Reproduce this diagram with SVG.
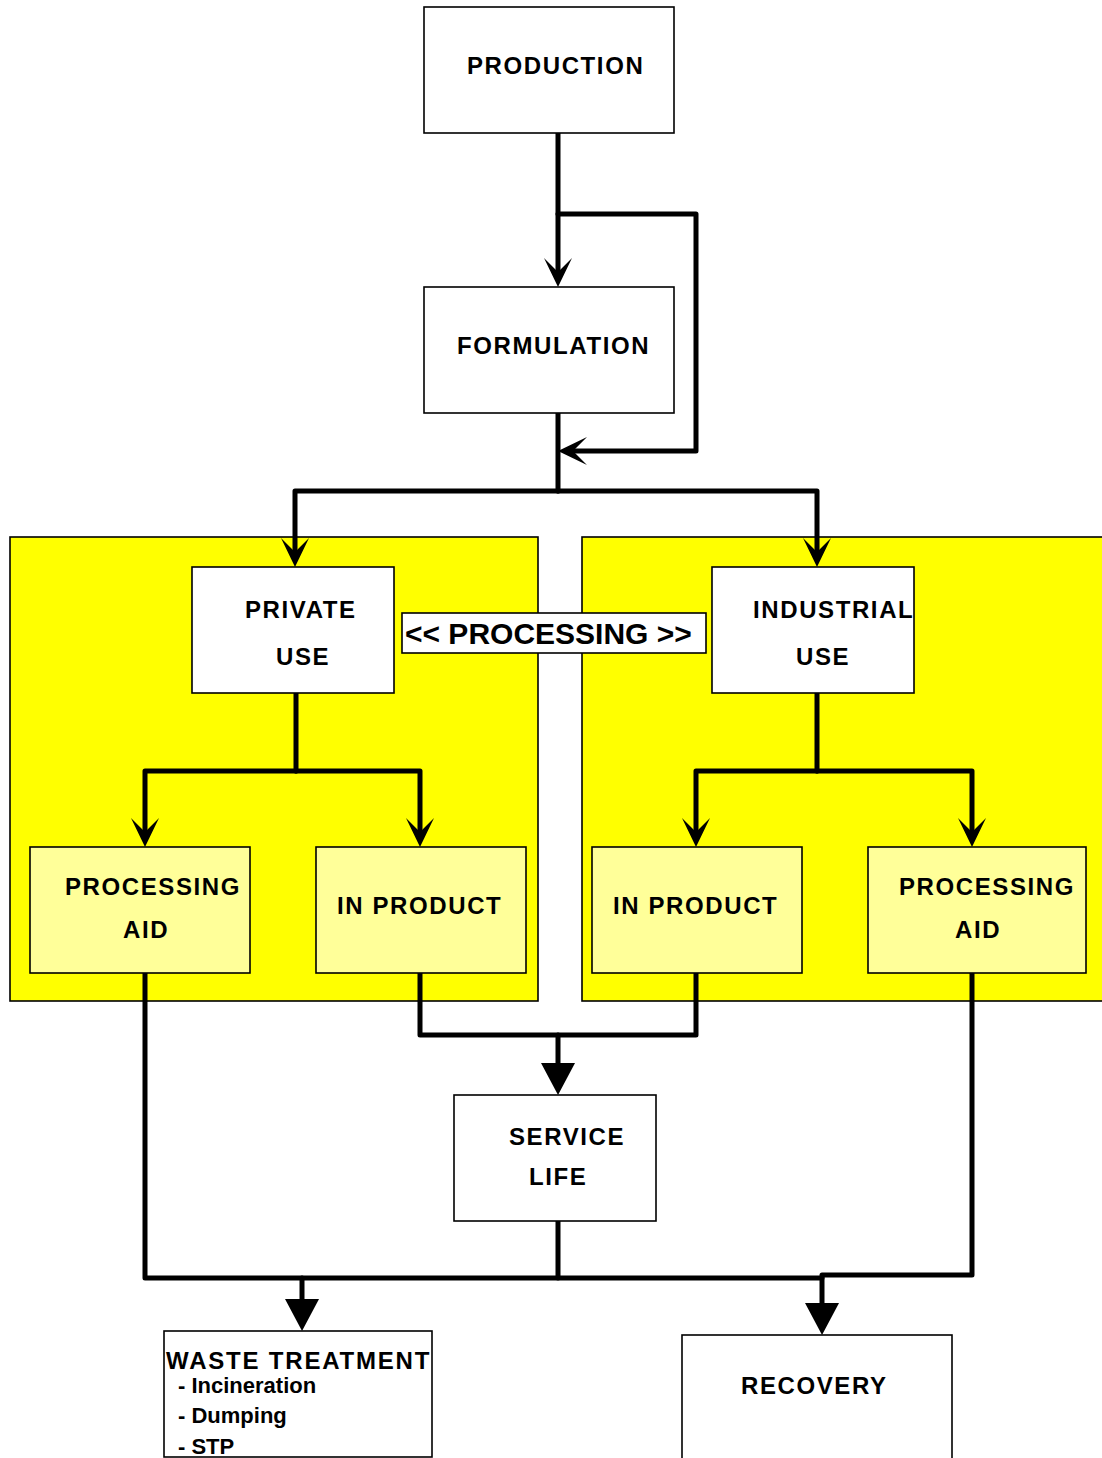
<svg xmlns="http://www.w3.org/2000/svg" width="1102" height="1458" viewBox="0 0 1102 1458">
<style>
.box{fill:#ffffff;stroke:#000;stroke-width:1.6}
.lbox{fill:#ffff99;stroke:#000;stroke-width:1.6}
.panel{fill:#ffff00;stroke:#000;stroke-width:1.6}
.t{font-family:"Liberation Sans",Arial,Helvetica,sans-serif;font-weight:bold;font-size:24px;letter-spacing:1.6px;fill:#000}
.big{font-size:30px;letter-spacing:0px}
.sub{font-size:22px;letter-spacing:0px}
.c{fill:none;stroke:#000;stroke-width:5;stroke-linejoin:round;stroke-linecap:round}
</style>
<defs>
<marker id="barb" markerUnits="userSpaceOnUse" viewBox="0 0 29 28" refX="17" refY="14" markerWidth="29" markerHeight="28" orient="auto">
<path d="M0,0 L29,14 L0,28 L14,14 Z" fill="#000"/>
</marker>
<marker id="tri" markerUnits="userSpaceOnUse" viewBox="0 0 32 34" refX="12" refY="17" markerWidth="32" markerHeight="34" orient="auto">
<path d="M0,0 L32,17 L0,34 Z" fill="#000"/>
</marker>
</defs>
<rect width="1102" height="1458" fill="#fff"/>

<g id="panel-private"><rect class="panel" x="10" y="537" width="528" height="464"/></g>
<g id="panel-industrial"><rect class="panel" x="582" y="537" width="530" height="464"/></g>

<g id="connectors">
<path class="c" d="M558,133 V275" marker-end="url(#barb)"/>
<path class="c" d="M558,214 H696 V451 H570" marker-end="url(#barb)"/>
<path class="c" d="M558,413 V491"/>
<path class="c" d="M558,491 H295 V555" marker-end="url(#barb)"/>
<path class="c" d="M558,491 H817 V555" marker-end="url(#barb)"/>
<path class="c" d="M296,693 V771"/>
<path class="c" d="M296,771 H145 V835" marker-end="url(#barb)"/>
<path class="c" d="M296,771 H420 V835" marker-end="url(#barb)"/>
<path class="c" d="M817,693 V771"/>
<path class="c" d="M817,771 H696 V835" marker-end="url(#barb)"/>
<path class="c" d="M817,771 H972 V835" marker-end="url(#barb)"/>
<path class="c" d="M420,973 V1035 H696 V973"/>
<path class="c" d="M558,1035 V1075" marker-end="url(#tri)"/>
<path class="c" d="M145,973 V1278 H822"/>
<path class="c" d="M558,1221 V1278"/>
<path class="c" d="M972,973 V1275 H822 V1315" marker-end="url(#tri)"/>
<path class="c" d="M302,1278 V1311" marker-end="url(#tri)"/>
</g>

<g id="production"><rect class="box" x="424" y="7" width="250" height="126"/><text class="t" x="467" y="73.5">PRODUCTION</text></g>
<g id="formulation"><rect class="box" x="424" y="287" width="250" height="126"/><text class="t" x="457" y="353.5">FORMULATION</text></g>
<g id="processing-label"><rect class="box" x="402" y="613" width="304" height="40"/><text class="t big" x="405" y="644">&lt;&lt; PROCESSING &gt;&gt;</text></g>
<g id="private-use"><rect class="box" x="192" y="567" width="202" height="126"/><text class="t" x="245" y="617.5">PRIVATE</text><text class="t" x="276" y="664.5">USE</text></g>
<g id="industrial-use"><rect class="box" x="712" y="567" width="202" height="126"/><text class="t" x="753" y="617.5">INDUSTRIAL</text><text class="t" x="796" y="664.5">USE</text></g>
<g id="processing-aid-left"><rect class="lbox" x="30" y="847" width="220" height="126"/><text class="t" x="65" y="894.5">PROCESSING</text><text class="t" x="123" y="937.5">AID</text></g>
<g id="in-product-left"><rect class="lbox" x="316" y="847" width="210" height="126"/><text class="t" x="337" y="913.5">IN PRODUCT</text></g>
<g id="in-product-right"><rect class="lbox" x="592" y="847" width="210" height="126"/><text class="t" x="613" y="913.5">IN PRODUCT</text></g>
<g id="processing-aid-right"><rect class="lbox" x="868" y="847" width="218" height="126"/><text class="t" x="899" y="894.5">PROCESSING</text><text class="t" x="955" y="937.5">AID</text></g>
<g id="service-life"><rect class="box" x="454" y="1095" width="202" height="126"/><text class="t" x="509" y="1144.5">SERVICE</text><text class="t" x="529" y="1184.5">LIFE</text></g>
<g id="waste-treatment"><rect class="box" x="164" y="1331" width="268" height="126"/>
<text class="t" x="166" y="1369" style="letter-spacing:1.8px">WASTE TREATMENT</text>
<text class="t sub" x="178" y="1393">- Incineration</text>
<text class="t sub" x="178" y="1423">- Dumping</text>
<text class="t sub" x="178" y="1453.5">- STP</text></g>
<g id="recovery"><rect class="box" x="682" y="1335" width="270" height="140"/><text class="t" x="741" y="1393.5">RECOVERY</text></g>
</svg>
